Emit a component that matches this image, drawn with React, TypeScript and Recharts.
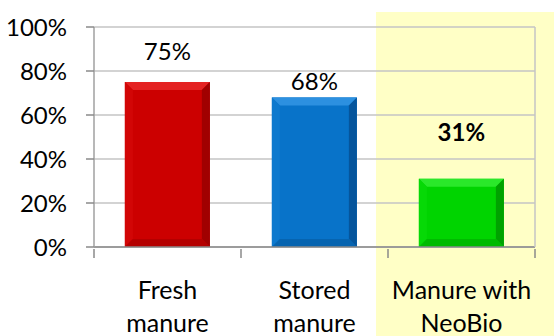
import { BarChart, Bar, XAxis, YAxis, CartesianGrid, LabelList, Cell } from "recharts";

// Categories, split into two lines for the axis labels.
const CATEGORIES = ["Fresh\nmanure", "Stored\nmanure", "Manure with\nNeoBio"];
// Share of each sample, in percent.
const VALUES = [75, 68, 31];
const Y_TICKS = [0, 20, 40, 60, 80, 100];

// Bar colours: face, top bevel, left bevel, right bevel, bottom bevel.
const PALETTE = [
  { face: "#CC0000", top: "#E42222", left: "#D20606", right: "#A00000", bottom: "#B40000" },
  { face: "#0873C9", top: "#2C90E0", left: "#0D79CE", right: "#05559C", bottom: "#0664B0" },
  { face: "#00D400", top: "#2AE82A", left: "#06D906", right: "#00A200", bottom: "#00BA00" },
];

const FONT = "Lato, 'Open Sans', sans-serif";

const data = CATEGORIES.map((name, i) => ({ name, value: VALUES[i] }));

// Bar with a bevelled look, like the office chart style.
function BevelBar(props: any) {
  const { x, y, width: w, height: h, index } = props;
  const c = PALETTE[index % PALETTE.length];
  const b = Math.min(8, w / 4, h / 4);
  return (
    <g>
      <rect x={x} y={y} width={w} height={h} fill={c.face} />
      <polygon points={`${x},${y} ${x + w},${y} ${x + w - b},${y + b} ${x + b},${y + b}`} fill={c.top} />
      <polygon points={`${x},${y} ${x + b},${y + b} ${x + b},${y + h - b} ${x},${y + h}`} fill={c.left} />
      <polygon points={`${x + w},${y} ${x + w},${y + h} ${x + w - b},${y + h - b} ${x + w - b},${y + b}`} fill={c.right} />
      <polygon points={`${x},${y + h} ${x + w},${y + h} ${x + w - b},${y + h - b} ${x + b},${y + h - b}`} fill={c.bottom} />
    </g>
  );
}

// Value labels were nudged by hand in the original, so each gets its own lift.
const LABEL_LIFT = [22, 7, 38];

function ValueLabel(props: any) {
  const { x, y, width, value, index } = props;
  return (
    <text
      x={x + width / 2}
      y={y - LABEL_LIFT[index]}
      textAnchor="middle"
      fontFamily={FONT}
      fontSize={24}
      fontWeight={index === 2 ? 700 : 400}
      fill="#000"
    >
      {value}%
    </text>
  );
}

// Category label plus tick marks on the band edges (Excel style).
function CategoryTick(props: any) {
  const { x, y, payload, index, width, visibleTicksCount } = props;
  const lines = String(payload.value).split("\n");
  const half = width / visibleTicksCount / 2;
  const top = y - 8;
  return (
    <g>
      <line x1={x - half} y1={top} x2={x - half} y2={top + 9} stroke="#8A8A8A" strokeWidth={1.5} />
      {index === visibleTicksCount - 1 && (
        <line x1={x + half} y1={top} x2={x + half} y2={top + 9} stroke="#8A8A8A" strokeWidth={1.5} />
      )}
      <text x={x} y={y} textAnchor="middle" fontFamily={FONT} fontSize={25} fill="#000">
        {lines.map((line, i) => (
          <tspan key={i} x={x} dy={i === 0 ? 42 : 33}>
            {line}
          </tspan>
        ))}
      </text>
    </g>
  );
}

export default function App() {
  return (
    <div style={{ position: "absolute", left: 0, top: 0, width: 554, height: 336, background: "#fff", overflow: "hidden" }}>
      {/* highlight behind the NeoBio column */}
      <div style={{ position: "absolute", left: 376, top: 12, width: 178, height: 324, background: "#FFFFC6" }} />
      <div style={{ position: "absolute", left: 0, top: 0 }}>
        <BarChart width={554} height={336} data={data} margin={{ top: 27, right: 0, left: 0, bottom: 0 }} barCategoryGap="21%">
          <CartesianGrid vertical={false} stroke="#C4C4C4" strokeWidth={1.5} />
          <XAxis
            dataKey="name"
            height={89}
            interval={0}
            tickSize={8}
            tick={<CategoryTick />}
            tickLine={false}
            axisLine={{ stroke: "#8A8A8A", strokeWidth: 1.5 }}
          />
          <YAxis
            domain={[0, 100]}
            ticks={Y_TICKS}
            width={94}
            tickSize={8}
            tickMargin={19}
            tickFormatter={(v) => `${v}%`}
            tick={{ fontFamily: FONT, fontSize: 24, fill: "#000" }}
            tickLine={{ stroke: "#8A8A8A", strokeWidth: 1.5 }}
            axisLine={{ stroke: "#A0A0A0", strokeWidth: 1.5 }}
          />
          <YAxis yAxisId="r" orientation="right" width={19} domain={[0, 100]} tick={false} tickLine={false} axisLine={{ stroke: "#C4C4C4", strokeWidth: 1.5 }} />
          <Bar dataKey="value" shape={<BevelBar />} isAnimationActive={false}>
            {data.map((d) => (
              <Cell key={d.name} />
            ))}
            <LabelList dataKey="value" content={<ValueLabel />} />
          </Bar>
        </BarChart>
      </div>
    </div>
  );
}
